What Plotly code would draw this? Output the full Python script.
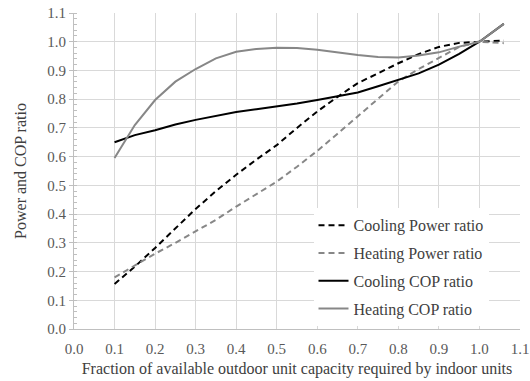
import plotly.graph_objects as go

# Fraction of available outdoor unit capacity required by indoor units
load_fraction = [0.1, 0.15, 0.2, 0.25, 0.3, 0.35, 0.4, 0.45, 0.5, 0.55,
                 0.6, 0.65, 0.7, 0.75, 0.8, 0.85, 0.9, 0.95, 1.0, 1.06]

cooling_power = [0.157, 0.217, 0.282, 0.350, 0.418, 0.480, 0.537, 0.590, 0.640, 0.700,
                 0.757, 0.808, 0.856, 0.890, 0.925, 0.957, 0.982, 0.996, 1.000, 1.004]
heating_power = [0.180, 0.222, 0.262, 0.300, 0.339, 0.380, 0.426, 0.470, 0.513, 0.565,
                 0.620, 0.680, 0.740, 0.800, 0.862, 0.905, 0.945, 0.982, 1.000, 0.995]
cooling_cop = [0.650, 0.675, 0.692, 0.712, 0.728, 0.742, 0.755, 0.765, 0.774, 0.785,
               0.797, 0.810, 0.823, 0.845, 0.868, 0.890, 0.920, 0.958, 1.000, 1.062]
heating_cop = [0.595, 0.710, 0.797, 0.861, 0.905, 0.942, 0.965, 0.975, 0.979, 0.978,
               0.972, 0.962, 0.954, 0.947, 0.945, 0.952, 0.963, 0.983, 1.000, 1.062]

x_ticks = [0.0, 0.1, 0.2, 0.3, 0.4, 0.5, 0.6, 0.7, 0.8, 0.9, 1.0, 1.1]
y_ticks = [0.0, 0.1, 0.2, 0.3, 0.4, 0.5, 0.6, 0.7, 0.8, 0.9, 1.0, 1.1]

FONT = "Liberation Serif"
GREY = "#878787"

series = [
    ("Cooling Power ratio", cooling_power, "black", "6px,4px"),
    ("Heating Power ratio", heating_power, GREY, "6px,4px"),
    ("Cooling COP ratio", cooling_cop, "black", "solid"),
    ("Heating COP ratio", heating_cop, GREY, "solid"),
]

fig = go.Figure()
for i, (name, vals, color, dash) in enumerate(series):
    fig.add_trace(go.Scatter(
        x=load_fraction, y=vals, mode="lines", name=name,
        legendgroup=f"g{i}",
        line=dict(color=color, width=2, dash=dash),
    ))

fig.update_layout(
    width=530, height=381,
    margin=dict(l=74, r=10, t=13, b=52),
    paper_bgcolor="white", plot_bgcolor="white",
    font=dict(family=FONT, size=16, color="#404040"),
    legend=dict(
        x=0.537, y=0.382, xanchor="left", yanchor="top",
        bgcolor="white", borderwidth=0,
        font=dict(family=FONT, size=16, color="#404040"),
        tracegroupgap=4,
    ),
    showlegend=True,
)

fig.update_xaxes(
    range=[0, 1.1], tickvals=x_ticks, automargin=False,
    ticktext=[f"{v:.1f}" for v in x_ticks],
    showgrid=True, gridcolor="#d9d9d9", gridwidth=1,
    showline=True, linecolor="#bfbfbf", linewidth=1,
    ticks="outside", ticklen=6, tickcolor="rgba(0,0,0,0)", zeroline=False,
    tickfont=dict(family=FONT, size=15, color="#595959"),
    title=dict(text="Fraction of available outdoor unit capacity required by indoor units",
               font=dict(family=FONT, size=16, color="#404040"), standoff=6),
)
fig.update_yaxes(
    range=[0, 1.1], tickvals=y_ticks, automargin=False,
    ticktext=[f"{v:.1f}" for v in y_ticks],
    showgrid=True, gridcolor="#d9d9d9", gridwidth=1,
    showline=True, linecolor="#bfbfbf", linewidth=1,
    ticks="outside", ticklen=4, tickcolor="#bfbfbf",
    minor=dict(ticks="inside", ticklen=3, tickcolor="#bfbfbf", dtick=0.02, showgrid=False),
    zeroline=False,
    tickfont=dict(family=FONT, size=15, color="#595959"),
    title=dict(text="Power and COP ratio",
               font=dict(family=FONT, size=16, color="#404040"), standoff=16),
)

fig.write_html("out.html")
